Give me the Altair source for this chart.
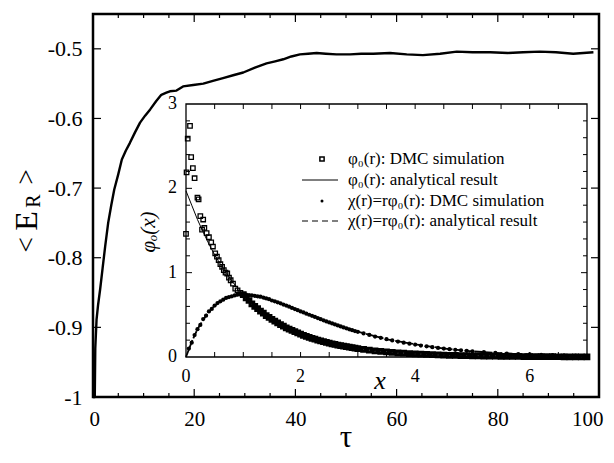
import altair as alt
import pandas as pd

# ---------------- main curve: <E_R> versus tau ----------------
tau = [0.0, 0.2, 0.35, 0.45, 0.7, 1.0, 1.4, 1.9, 2.4, 3.0, 3.6, 4.2, 5.0, 5.7, 6.5, 7.3, 8.3,
       9.3, 10.3, 11.3, 12.5, 13.5, 14.5, 15.2, 16.5, 17.8, 19.8, 21.8, 23.7, 25.7, 27.7,
       29.7, 32.0, 34.3, 36.0, 37.6, 39.2, 40.9, 42.5, 44.2, 46.0, 48.1, 50.8, 53.0, 55.4,
       58.7, 62.0, 65.2, 68.6, 71.9, 75.0, 78.5, 82.0, 85.0, 88.3, 91.5, 94.9, 98.9]
energy = [-1.0, -1.0, -1.0, -0.93, -0.889, -0.868, -0.846, -0.815, -0.784, -0.750, -0.725,
          -0.702, -0.680, -0.659, -0.646, -0.635, -0.620, -0.606, -0.596, -0.587, -0.575,
          -0.566, -0.563, -0.561, -0.560, -0.554, -0.552, -0.550, -0.546, -0.542, -0.538,
          -0.534, -0.527, -0.521, -0.518, -0.515, -0.511, -0.508, -0.507, -0.506, -0.507,
          -0.508, -0.508, -0.507, -0.507, -0.506, -0.508, -0.509, -0.507, -0.504, -0.505,
          -0.505, -0.506, -0.505, -0.504, -0.505, -0.507, -0.505]

main_x_domain = [0, 100]
main_y_domain = [-1.0, -0.45]
main_x_labels = [0, 20, 40, 60, 80, 100]
main_x_minor = [5, 10, 15, 25, 30, 35, 45, 50, 55, 65, 70, 75, 85, 90, 95]
main_y_labels = [-1.0, -0.9, -0.8, -0.7, -0.6, -0.5]

# ---------------- inset: phi_0(x) and chi(x) ----------------
phi_dmc_x = [0.00, 0.01, 0.03, 0.07, 0.09, 0.12, 0.15, 0.20, 0.22, 0.25, 0.28, 0.30, 0.32,
             0.36, 0.40, 0.44, 0.47, 0.51, 0.54, 0.57, 0.60, 0.63, 0.66, 0.69, 0.72, 0.75,
             0.78, 0.82, 0.86, 0.90, 0.95,
             1.00, 1.05, 1.10, 1.15, 1.20, 1.25, 1.30, 1.35, 1.40, 1.45, 1.50, 1.55, 1.60,
             1.65, 1.70, 1.75, 1.80, 1.85, 1.90, 1.95, 2.00, 2.05, 2.10, 2.15, 2.20, 2.25,
             2.30, 2.35, 2.40, 2.45, 2.50, 2.55, 2.60, 2.65, 2.70, 2.75, 2.80, 2.85, 2.90,
             2.95, 3.00, 3.1, 3.2, 3.3, 3.4, 3.5, 3.6, 3.7, 3.8, 3.9, 4.0, 4.1, 4.2, 4.3,
             4.4, 4.5, 4.6, 4.7, 4.8, 4.9, 5.0, 5.1, 5.2, 5.3, 5.4, 5.5, 5.6, 5.7, 5.8, 5.9,
             6.0, 6.1, 6.2, 6.3, 6.4, 6.5, 6.6, 6.7, 6.8, 6.9, 7.0]
phi_dmc_y = [1.46, 2.19, 2.59, 2.74, 2.37, 2.24, 2.12, 1.89, 1.87, 1.67, 1.51, 1.63, 1.53,
             1.47, 1.42, 1.36, 1.31, 1.23, 1.19, 1.15, 1.10, 1.07, 1.03, 1.00, 0.99, 0.94,
             0.91, 0.87, 0.81, 0.79, 0.76,
             0.74, 0.70, 0.67, 0.63, 0.60, 0.575, 0.545, 0.52, 0.49, 0.47, 0.445, 0.425,
             0.405, 0.385, 0.365, 0.345, 0.33, 0.315, 0.30, 0.285, 0.27, 0.257, 0.245,
             0.233, 0.222, 0.211, 0.20, 0.19, 0.181, 0.172, 0.164, 0.156, 0.149, 0.141,
             0.134, 0.128, 0.122, 0.116, 0.110, 0.105, 0.10, 0.090, 0.082, 0.074, 0.067,
             0.060, 0.055, 0.049, 0.045, 0.040, 0.037, 0.033, 0.030, 0.027, 0.025, 0.022,
             0.020, 0.018, 0.016, 0.015, 0.013, 0.012, 0.011, 0.010, 0.009, 0.008, 0.007,
             0.0067, 0.006, 0.0055, 0.005, 0.0045, 0.004, 0.0037, 0.0033, 0.003, 0.0027,
             0.0025, 0.0022, 0.002, 0.0018]

chi_dmc_x = [0.05, 0.10, 0.15, 0.20, 0.25, 0.30, 0.35, 0.40, 0.45, 0.50, 0.55, 0.60, 0.65,
             0.70, 0.75, 0.80, 0.85, 0.90, 0.95, 1.00, 1.05, 1.10, 1.15, 1.20, 1.25, 1.30,
             1.35, 1.40, 1.45, 1.50, 1.55, 1.60, 1.65, 1.70, 1.75, 1.80, 1.85, 1.90, 1.95,
             2.00, 2.05, 2.10, 2.15, 2.20, 2.25, 2.30, 2.35, 2.40, 2.45, 2.50, 2.55, 2.60,
             2.65, 2.70, 2.75, 2.80, 2.85, 2.90, 2.95, 3.00, 3.1, 3.2, 3.3, 3.4, 3.5, 3.6,
             3.7, 3.8, 3.9, 4.0, 4.1, 4.2, 4.3, 4.4, 4.5, 4.6, 4.7, 4.8, 4.9, 5.0, 5.2, 5.4,
             5.6, 5.8, 6.0, 6.2, 6.4, 6.6, 6.8, 7.0]
chi_dmc_y = [0.10, 0.17, 0.26, 0.33, 0.38, 0.45, 0.49, 0.54, 0.57, 0.61, 0.64, 0.66, 0.68,
             0.70, 0.71, 0.72, 0.73, 0.74, 0.74, 0.74, 0.74, 0.735, 0.73, 0.725, 0.72, 0.715,
             0.705, 0.695, 0.685, 0.67, 0.66, 0.648, 0.636, 0.622, 0.61, 0.596, 0.582, 0.568,
             0.555, 0.541, 0.528, 0.514, 0.501, 0.488, 0.475, 0.461, 0.448, 0.435, 0.422,
             0.41, 0.398, 0.386, 0.374, 0.362, 0.351, 0.34, 0.329, 0.318, 0.308, 0.299,
             0.279, 0.261, 0.243, 0.227, 0.211, 0.197, 0.183, 0.170, 0.158, 0.147, 0.136,
             0.126, 0.117, 0.108, 0.100, 0.092, 0.085, 0.079, 0.073, 0.067, 0.057, 0.049,
             0.041, 0.035, 0.030, 0.025, 0.021, 0.018, 0.015, 0.013]

phi_an_x = [0, 0.1, 0.2, 0.3, 0.4, 0.5, 0.6, 0.8, 1.0, 1.25, 1.5, 1.75, 2.0, 2.5, 3.0, 3.5,
            4.0, 4.5, 5.0, 6.0, 7.0]
phi_an_y = [1.97, 1.80, 1.63, 1.48, 1.34, 1.21, 1.10, 0.90, 0.74, 0.57, 0.45, 0.35, 0.27,
            0.16, 0.10, 0.06, 0.037, 0.022, 0.013, 0.005, 0.002]

chi_an_x = [0, 0.1, 0.2, 0.3, 0.4, 0.5, 0.6, 0.7, 0.8, 0.9, 1.0, 1.2, 1.4, 1.6, 1.8, 2.0,
            2.5, 3.0, 3.5, 4.0, 4.5, 5.0, 5.5, 6.0, 6.5, 7.0]
chi_an_y = [0, 0.18, 0.33, 0.44, 0.54, 0.61, 0.66, 0.70, 0.72, 0.73, 0.74, 0.72, 0.69, 0.65,
            0.60, 0.54, 0.41, 0.30, 0.21, 0.15, 0.10, 0.067, 0.045, 0.030, 0.020, 0.013]

inset_x_domain = [0, 7]
inset_y_domain = [0, 3]
inset_x_labels = [0, 2, 4, 6]
inset_x_ticks = [0.5, 1, 1.5, 2, 2.5, 3, 3.5, 4, 4.5, 5, 5.5, 6, 6.5]
inset_y_labels = [0, 1, 2, 3]
inset_y_minor = [0.2, 0.4, 0.6, 0.8, 1.2, 1.4, 1.6, 1.8, 2.2, 2.4, 2.6, 2.8]
inset_y_major = [1, 2]

legend_labels = ["φ₀(r): DMC simulation",
                 "φ₀(r): analytical result",
                 "χ(r)=rφ₀(r): DMC simulation",
                 "χ(r)=rφ₀(r): analytical result"]

# ---------------- layout constants ----------------
SERIF = "Liberation Serif"
W, H = 506, 383
IX0, IX1 = 93, 494      # inset left / right inside the main plot area (px)
IY0, IY1 = 343, 90      # inset bottom / top inside the main plot area (px)

xs = alt.Scale(domain=main_x_domain, nice=False, zero=False)
ys = alt.Scale(domain=main_y_domain, nice=False, zero=False)
isx = alt.Scale(domain=inset_x_domain, range=[IX0, IX1], nice=False, zero=False)
isy = alt.Scale(domain=inset_y_domain, range=[IY0, IY1], nice=False, zero=False)

one = pd.DataFrame({"k": [0]})

# ---------------- main layer ----------------
main_df = pd.DataFrame({"tau": tau, "E": energy})
curve = alt.Chart(main_df).mark_line(color="black", strokeWidth=2.4, strokeJoin="round").encode(
    x=alt.X("tau:Q", scale=xs, title=None,
            axis=alt.Axis(values=main_x_labels, labelPadding=11, labelFontSize=21,
                          labelFlush=True, labelFlushOffset=4)),
    y=alt.Y("E:Q", scale=ys, title=None,
            axis=alt.Axis(values=main_y_labels, labelExpr="datum.value + ''",
                          labelPadding=11, labelFontSize=22)),
)

main_parts = [curve]


def xticks(vals, length):
    df = pd.DataFrame({"tau": vals})
    out = []
    for yv, off in ((main_y_domain[0], -length), (main_y_domain[1], length)):
        out.append(alt.Chart(df).mark_rule(color="black", strokeWidth=1.2, y2Offset=off).encode(
            x=alt.X("tau:Q", scale=xs, title=None),
            y=alt.YDatum(yv, scale=ys, title=None),
            y2=alt.Y2Datum(yv)))
    return out


def yticks(vals, length):
    df = pd.DataFrame({"E": vals})
    out = []
    for xv, off in ((main_x_domain[0], length), (main_x_domain[1], -length)):
        out.append(alt.Chart(df).mark_rule(color="black", strokeWidth=1.2, x2Offset=off).encode(
            y=alt.Y("E:Q", scale=ys, title=None),
            x=alt.XDatum(xv, scale=xs, title=None),
            x2=alt.X2Datum(xv)))
    return out


main_parts += xticks(main_x_labels[1:-1], 8)
main_parts += xticks(main_x_minor, 4)
main_parts += yticks(main_y_labels[1:], 8)


def label(txt, x, y, size, angle=0, baseline="middle", align="center", style="normal"):
    kw = dict(font=SERIF, fontSize=size, color="black", baseline=baseline, align=align,
              fontStyle=style)
    if angle:
        kw["angle"] = angle
    return alt.Chart(one).mark_text(**kw).encode(
        x=alt.value(x), y=alt.value(y), text=alt.value(txt))


# y-axis title "< E_R >" (rotated) and x-axis title tau
main_parts += [
    label("<", -58, 231, 27, angle=270, baseline="alphabetic"),
    label("E", -56, 207, 32, angle=270, baseline="alphabetic"),
    label("R", -53, 187, 20, angle=270, baseline="alphabetic"),
    label(">", -58, 163, 27, angle=270, baseline="alphabetic"),
    label("τ", 253, 424, 31),
]

main_layer = alt.layer(*main_parts)

# ---------------- inset layer ----------------
def ix(f):
    return alt.X(f, scale=isx, axis=None)


def iy(f):
    return alt.Y(f, scale=isy, axis=None)


frame_df = pd.DataFrame({"x0": [inset_x_domain[0]], "x1": [inset_x_domain[1]],
                         "y0": [inset_y_domain[0]], "y1": [inset_y_domain[1]]})
frame = alt.Chart(frame_df).mark_rect(fill="white", stroke="black", strokeWidth=1.3).encode(
    x=ix("x0:Q"), x2="x1:Q", y=iy("y0:Q"), y2="y1:Q")

phi_an = alt.Chart(pd.DataFrame({"x": phi_an_x, "y": phi_an_y})).mark_line(
    color="black", strokeWidth=1).encode(x=ix("x:Q"), y=iy("y:Q"))
chi_an = alt.Chart(pd.DataFrame({"x": chi_an_x, "y": chi_an_y})).mark_line(
    color="black", strokeWidth=1.8, strokeDash=[8, 2]).encode(x=ix("x:Q"), y=iy("y:Q"))
chi_dmc = alt.Chart(pd.DataFrame({"x": chi_dmc_x, "y": chi_dmc_y})).mark_circle(
    color="black", size=18, opacity=1).encode(x=ix("x:Q"), y=iy("y:Q"))

phi_df = pd.DataFrame({"x": phi_dmc_x, "y": phi_dmc_y})
# sparse squares (small x) drawn lightly, the dense band drawn with heavier outlines
phi_dmc_sparse = alt.Chart(phi_df).transform_filter("datum.x < 0.98").mark_point(
    shape="square", filled=False, color="black", size=20, strokeWidth=1.3, opacity=1).encode(
    x=ix("x:Q"), y=iy("y:Q"))
phi_dmc_dense = alt.Chart(phi_df).transform_filter("datum.x >= 0.98").mark_point(
    shape="square", filled=False, color="black", size=14, strokeWidth=3, opacity=1).encode(
    x=ix("x:Q"), y=iy("y:Q"))

inset_parts = [frame, phi_an, chi_an, chi_dmc, phi_dmc_sparse, phi_dmc_dense]


def ixticks(vals, length):
    df = pd.DataFrame({"x": vals})
    out = []
    for yv, off in ((inset_y_domain[0], -length), (inset_y_domain[1], length)):
        out.append(alt.Chart(df).mark_rule(color="black", strokeWidth=1, y2Offset=off).encode(
            x=ix("x:Q"), y=alt.YDatum(yv, scale=isy, axis=None), y2=alt.Y2Datum(yv)))
    return out


def iyticks(vals, length):
    df = pd.DataFrame({"y": vals})
    out = []
    for xv, off in ((inset_x_domain[0], length), (inset_x_domain[1], -length)):
        out.append(alt.Chart(df).mark_rule(color="black", strokeWidth=1, x2Offset=off).encode(
            y=iy("y:Q"), x=alt.XDatum(xv, scale=isx, axis=None), x2=alt.X2Datum(xv)))
    return out


inset_parts += ixticks(inset_x_ticks, 5)
inset_parts += iyticks(inset_y_minor, 4)
inset_parts += iyticks(inset_y_major, 6)

xlab = alt.Chart(pd.DataFrame({"x": inset_x_labels})).mark_text(
    font=SERIF, fontSize=18, color="black", baseline="middle", align="center", dy=20).encode(
    x=ix("x:Q"), y=alt.YDatum(inset_y_domain[0], scale=isy, axis=None), text=alt.Text("x:Q"))
ylab = alt.Chart(pd.DataFrame({"y": inset_y_labels})).mark_text(
    font=SERIF, fontSize=18, color="black", baseline="middle", align="right", dx=-9).encode(
    y=iy("y:Q"), x=alt.XDatum(inset_x_domain[0], scale=isx, axis=None), text=alt.Text("y:Q"))
inset_parts += [xlab, ylab]

inset_parts += [
    label("x", 287, 367, 26, style="italic"),
    label("φₒ(x)", 62, 218, 21, angle=270, baseline="alphabetic", style="italic"),
]

# legend
LEG_X_SYM, LEG_X0, LEG_X1, LEG_X_TXT = 229, 209, 245, 255
LEG_ROWS = [145, 166, 187, 207]
for lab, yy in zip(legend_labels, LEG_ROWS):
    inset_parts.append(alt.Chart(pd.DataFrame({"t": [lab]})).mark_text(
        font=SERIF, fontSize=17, color="black", align="left", baseline="middle").encode(
        x=alt.value(LEG_X_TXT), y=alt.value(yy), text="t:N"))

inset_parts.append(alt.Chart(one).mark_point(
    shape="square", filled=False, color="black", size=18, strokeWidth=1.5, opacity=1).encode(
    x=alt.value(LEG_X_SYM), y=alt.value(LEG_ROWS[0])))
inset_parts.append(alt.Chart(one).mark_rule(color="black", strokeWidth=1).encode(
    x=alt.value(LEG_X0), x2=alt.value(LEG_X1), y=alt.value(LEG_ROWS[1])))
inset_parts.append(alt.Chart(one).mark_circle(color="black", size=9, opacity=1).encode(
    x=alt.value(LEG_X_SYM), y=alt.value(LEG_ROWS[2])))
inset_parts.append(alt.Chart(one).mark_rule(color="black", strokeWidth=1.2, strokeDash=[6, 4]).encode(
    x=alt.value(LEG_X0), x2=alt.value(LEG_X1), y=alt.value(LEG_ROWS[3])))

inset_layer = alt.layer(*inset_parts)

chart = alt.layer(main_layer, inset_layer).resolve_scale(
    x="independent", y="independent"
).properties(
    width=W, height=H,
    autosize=alt.AutoSizeParams(type="none"),
    padding={"left": 85, "top": 6, "right": 7, "bottom": 58},
    background="white",
).configure_view(
    stroke="black", strokeWidth=2.5
).configure_axis(
    labelFont=SERIF, labelColor="black", ticks=False, domain=False, grid=False
)

chart.save("out.html", embed_options={"renderer": "svg", "actions": False})
